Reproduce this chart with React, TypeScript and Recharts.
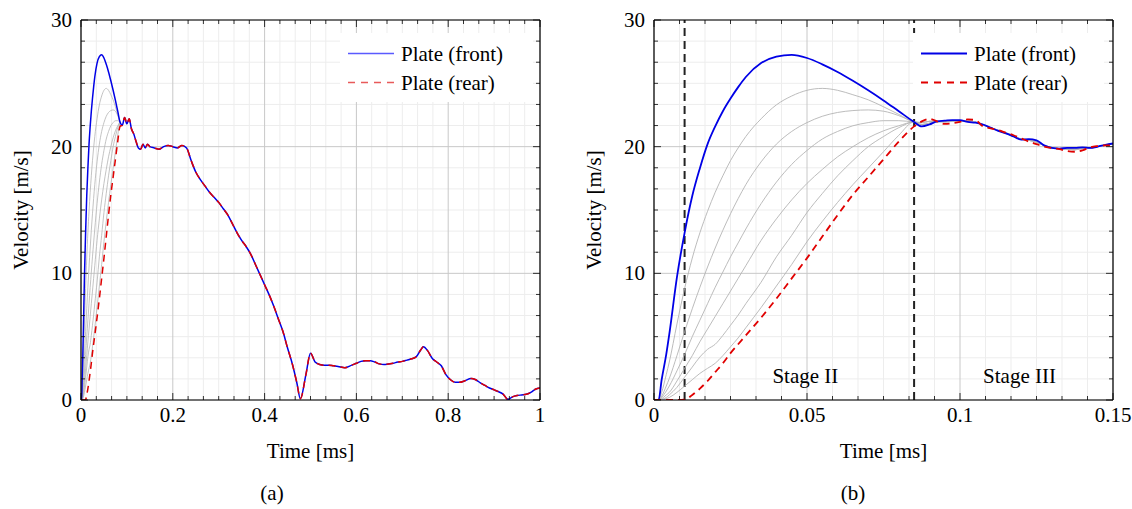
import React from 'react';
import { LineChart, Line, XAxis, YAxis, CartesianGrid, ReferenceLine, ReferenceArea } from 'recharts';

// rise phase, shared by both panels (ms, m/s)
const earlyTime = [0, 0.0015, 0.0025, 0.004, 0.005, 0.0075, 0.01, 0.0125, 0.015, 0.0175, 0.02, 0.0225, 0.025, 0.0275, 0.03, 0.035, 0.04, 0.045, 0.05, 0.055, 0.06, 0.065, 0.07, 0.075, 0.08, 0.085];
const earlyFront = [0, 0, 1.6, 3.6, 5.2, 9.7, 13.2, 16.1, 18.3, 20.2, 21.6, 22.8, 23.8, 24.7, 25.5, 26.6, 27.1, 27.25, 27.0, 26.5, 25.9, 25.2, 24.45, 23.65, 22.8, 21.95];
const earlyRear = [0, 0, 0, 0, 0, 0, 0.02, 0.4, 0.9, 1.5, 2.2, 2.9, 3.7, 4.4, 5.1, 6.5, 8.0, 9.6, 11.2, 12.9, 14.6, 16.2, 17.6, 19.0, 20.4, 21.6];
const earlyG1 = [0, 0, 0.6, 2.0, 3.0, 6.0, 8.8, 11.2, 13.2, 14.9, 16.4, 17.7, 18.9, 19.9, 20.8, 22.2, 23.3, 24.0, 24.45, 24.6, 24.45, 24.1, 23.7, 23.15, 22.55, 21.95];
const earlyG2 = [0, 0, 0.3, 1.1, 1.7, 3.5, 5.4, 7.2, 8.9, 10.5, 12.0, 13.4, 14.7, 15.9, 17.0, 18.8, 20.2, 21.2, 21.9, 22.4, 22.7, 22.85, 22.9, 22.8, 22.45, 21.95];
const earlyG3 = [0, 0, 0.2, 0.7, 1.1, 2.3, 3.6, 5.0, 6.3, 7.6, 8.9, 10.1, 11.3, 12.4, 13.5, 15.5, 17.2, 18.6, 19.7, 20.6, 21.2, 21.65, 21.9, 22.05, 22.05, 21.95];
const earlyG4 = [0, 0, 0.1, 0.4, 0.6, 1.5, 2.5, 3.5, 4.6, 5.6, 6.6, 7.6, 8.6, 9.6, 10.6, 12.6, 14.3, 15.8, 17.1, 18.2, 19.2, 20.0, 20.7, 21.25, 21.65, 21.95];
const earlyG5 = [0, 0, 0.05, 0.2, 0.4, 1.0, 1.8, 2.6, 3.4, 4.0, 4.4, 5.1, 5.9, 6.7, 7.6, 9.3, 11.3, 13.0, 14.8, 16.3, 17.7, 18.9, 20.0, 20.8, 21.5, 21.95];
const earlyG6 = [0, 0, 0, 0.1, 0.2, 0.6, 1.1, 1.6, 2.1, 2.5, 2.9, 3.5, 4.2, 4.9, 5.7, 7.3, 9.0, 10.7, 12.5, 14.1, 15.6, 17.0, 18.3, 19.6, 20.9, 21.95];

// panel (b) tail up to 0.15 ms
const tailTime = [0.0875, 0.09, 0.0925, 0.095, 0.0975, 0.1, 0.1025, 0.105, 0.1075, 0.11, 0.1125, 0.115, 0.1175, 0.12, 0.1225, 0.125, 0.1275, 0.13, 0.1325, 0.135, 0.1375, 0.14, 0.1425, 0.145, 0.1475, 0.15];
const tailFront = [21.6, 21.75, 22.0, 22.05, 22.1, 22.1, 21.95, 21.9, 21.75, 21.5, 21.25, 21.05, 20.8, 20.55, 20.6, 20.5, 20.1, 19.9, 19.85, 19.9, 19.9, 19.95, 19.9, 20.0, 20.15, 20.25];
const tailRear = [22.0, 22.2, 22.0, 21.8, 21.85, 21.95, 22.15, 22.1, 21.6, 21.45, 21.3, 21.1, 20.9, 20.65, 20.4, 20.2, 20.0, 19.9, 19.8, 19.65, 19.6, 19.7, 19.95, 20.05, 20.1, 20.1];
const tailGrayA = [21.9, 22.0, 22.0, 21.95, 22.0, 22.05, 22.0, 21.95, 21.7, 21.5, 21.3, 21.1, 20.85, 20.6, 20.5, 20.35, 20.1, 19.95, 19.85, 19.85, 19.8, 19.85, 19.9, 20.0, 20.1, 20.2];
const tailGrayB = [21.75, 21.85, 21.95, 22.0, 22.05, 22.0, 22.05, 21.95, 21.75, 21.5, 21.25, 21.05, 20.8, 20.6, 20.55, 20.4, 20.05, 19.9, 19.85, 19.8, 19.75, 19.9, 19.9, 20.0, 20.15, 20.2];

// panel (a) remainder up to 1 ms (front and rear coincide)
const lateTime = [0.09, 0.095, 0.1, 0.105, 0.11, 0.115, 0.12, 0.125, 0.13, 0.135, 0.14, 0.145, 0.15, 0.16, 0.17, 0.18, 0.19, 0.2, 0.21, 0.22, 0.23, 0.24, 0.25, 0.26, 0.27, 0.28, 0.29, 0.3, 0.31, 0.32, 0.33, 0.34, 0.35, 0.36, 0.37, 0.38, 0.39, 0.4, 0.41, 0.42, 0.43, 0.44, 0.45, 0.46, 0.47, 0.478, 0.49, 0.5, 0.51, 0.52, 0.53, 0.54, 0.55, 0.56, 0.575, 0.59, 0.6, 0.61, 0.62, 0.63, 0.64, 0.65, 0.66, 0.67, 0.68, 0.69, 0.7, 0.71, 0.72, 0.73, 0.74, 0.746, 0.755, 0.765, 0.775, 0.785, 0.795, 0.805, 0.815, 0.825, 0.835, 0.85, 0.86, 0.87, 0.88, 0.89, 0.9, 0.91, 0.92, 0.93, 0.94, 0.95, 0.96, 0.97, 0.98, 0.99, 1.0];
const lateVelocity = [21.7, 22.3, 21.8, 22.2, 21.4, 21.0, 20.4, 19.9, 19.8, 20.2, 19.9, 20.2, 20.0, 19.9, 19.8, 20.0, 20.1, 20.0, 19.9, 20.1, 19.9, 18.9, 18.0, 17.4, 16.9, 16.4, 16.0, 15.6, 15.1, 14.6, 13.9, 13.2, 12.6, 12.1, 11.5, 10.7, 9.9, 9.1, 8.3, 7.4, 6.4, 5.4, 4.1, 2.9, 1.4, 0.1, 2.0, 3.7, 3.0, 2.8, 2.75, 2.75, 2.7, 2.65, 2.55, 2.75, 2.9, 3.05, 3.1, 3.1, 3.0, 2.85, 2.8, 2.85, 2.9, 3.0, 3.05, 3.15, 3.25, 3.4, 3.95, 4.2, 3.9, 3.3, 3.0, 2.7, 2.0, 1.6, 1.4, 1.4, 1.5, 1.7, 1.6, 1.35, 1.15, 0.95, 0.8, 0.65, 0.45, 0.05, 0.25, 0.35, 0.4, 0.45, 0.6, 0.85, 0.95];

const seriesNames = ['Plate (front)', 'Plate (rear)'];
const xTicksA = [0, 0.2, 0.4, 0.6, 0.8, 1];
const xTicksB = [0, 0.05, 0.1, 0.15];
const yTicks = [0, 10, 20, 30];
const stageLines = [0.01, 0.085];
const stageLabels = ['Stage II', 'Stage III'];
const captions = ['(a)', '(b)'];

const FONT = "'Liberation Serif', 'Times New Roman', serif";
const FS = 21;
const BLUE = '#0000e6';
const RED = '#e00000';
const grayKeys = ['g1', 'g2', 'g3', 'g4', 'g5', 'g6'];

// 5 minor ticks between majors, like pgfplots
const minorsOf = (majors: number[]) => {
  const out: number[] = [];
  for (let i = 0; i < majors.length - 1; i++) {
    for (let k = 1; k <= 5; k++) out.push(majors[i] + ((majors[i + 1] - majors[i]) * k) / 6);
  }
  return out;
};
const allOf = (majors: number[]) => [...majors, ...minorsOf(majors)].sort((a, b) => a - b);

const earlyRows = earlyTime.map((t, i) => ({
  t,
  front: earlyFront[i],
  rear: earlyRear[i],
  g1: earlyG1[i],
  g2: earlyG2[i],
  g3: earlyG3[i],
  g4: earlyG4[i],
  g5: earlyG5[i],
  g6: earlyG6[i],
}));

const rowsA = [
  ...earlyRows,
  ...lateTime.map((t, i) => ({ t, front: lateVelocity[i], rear: lateVelocity[i] })),
];

const rowsB = [
  ...earlyRows,
  ...tailTime.map((t, i) => ({
    t,
    front: tailFront[i],
    rear: tailRear[i],
    g1: tailGrayA[i],
    g2: tailGrayB[i],
    g3: tailGrayA[i],
    g4: tailGrayB[i],
    g5: tailGrayA[i],
    g6: tailGrayB[i],
  })),
];

const makeTick = (side: string, majors: number[]) => (props: any) => {
  const { x, y, payload } = props;
  const v = payload.value;
  const major = majors.includes(v);
  const len = major ? 7 : 4;
  let line;
  if (side === 'bottom') line = <line x1={x} x2={x} y1={y} y2={y - len} />;
  else if (side === 'top') line = <line x1={x} x2={x} y1={y} y2={y + len} />;
  else if (side === 'left') line = <line x1={x} x2={x + len} y1={y} y2={y} />;
  else line = <line x1={x} x2={x - len} y1={y} y2={y} />;
  let label = null;
  if (major && side === 'bottom')
    label = (
      <text x={x} y={y + 22} textAnchor="middle" fontFamily={FONT} fontSize={FS} fill="#000">
        {String(v)}
      </text>
    );
  if (major && side === 'left')
    label = (
      <text x={x - 9} y={y + 7} textAnchor="end" fontFamily={FONT} fontSize={FS} fill="#000">
        {String(v)}
      </text>
    );
  return (
    <g>
      <g stroke="#000" strokeWidth={0.8}>{line}</g>
      {label}
    </g>
  );
};

interface PanelProps {
  left: number;
  rows: any[];
  xMajors: number[];
  grayWidth: number;
  mainWidth: number;
  stages?: boolean;
}

const Panel: React.FC<PanelProps> = ({ left, rows, xMajors, grayWidth, mainWidth, stages }) => {
  const xDomain = [xMajors[0], xMajors[xMajors.length - 1]];
  const xAll = allOf(xMajors);
  const yAll = allOf(yTicks);
  return (
    <div style={{ position: 'absolute', left, top: 0 }}>
      <LineChart width={560} height={470} data={rows} margin={{ top: 19, right: 19, bottom: 10, left: 0 }}>
        <CartesianGrid
          xAxisId="b"
          yAxisId="l"
          verticalValues={minorsOf(xMajors)}
          horizontalValues={minorsOf(yTicks)}
          stroke="#ededed"
          strokeWidth={1}
        />
        <CartesianGrid
          xAxisId="b"
          yAxisId="l"
          verticalValues={xMajors}
          horizontalValues={yTicks}
          stroke="#c8c8c8"
          strokeWidth={1}
        />
        <XAxis
          xAxisId="b"
          dataKey="t"
          type="number"
          domain={xDomain}
          allowDataOverflow
          ticks={xAll}
          interval={0}
          tickSize={0}
          tickMargin={0}
          tickLine={false}
          tick={makeTick('bottom', xMajors)}
          axisLine={{ stroke: '#000', strokeWidth: 1.2 }}
          height={60}
          label={{
            content: ({ viewBox }: any) => (
              <text
                x={viewBox.x + viewBox.width / 2}
                y={viewBox.y + 58}
                textAnchor="middle"
                fontFamily={FONT}
                fontSize={FS}
                fill="#000"
              >
                Time [ms]
              </text>
            ),
          }}
        />
        <XAxis
          xAxisId="top"
          orientation="top"
          dataKey="t"
          type="number"
          domain={xDomain}
          allowDataOverflow
          ticks={xAll}
          interval={0}
          tickSize={0}
          tickMargin={0}
          tickLine={false}
          tick={makeTick('top', xMajors)}
          axisLine={{ stroke: '#000', strokeWidth: 1.2 }}
          height={1}
        />
        <YAxis
          yAxisId="l"
          type="number"
          domain={[0, 30]}
          allowDataOverflow
          ticks={yAll}
          interval={0}
          tickSize={0}
          tickMargin={0}
          tickLine={false}
          tick={makeTick('left', yTicks)}
          axisLine={{ stroke: '#000', strokeWidth: 1.2 }}
          width={81}
          label={{
            content: ({ viewBox }: any) => (
              <text
                transform={`translate(${viewBox.x + 28},${viewBox.y + viewBox.height / 2}) rotate(-90)`}
                textAnchor="middle"
                fontFamily={FONT}
                fontSize={FS}
                fill="#000"
              >
                Velocity [m/s]
              </text>
            ),
          }}
        />
        <YAxis
          yAxisId="r"
          orientation="right"
          type="number"
          domain={[0, 30]}
          allowDataOverflow
          ticks={yAll}
          interval={0}
          tickSize={0}
          tickMargin={0}
          tickLine={false}
          tick={makeTick('right', yTicks)}
          axisLine={{ stroke: '#000', strokeWidth: 1.2 }}
          width={1}
        />
        {stages &&
          stageLines.map((x) => (
            <ReferenceLine
              key={x}
              x={x}
              xAxisId="b"
              yAxisId="l"
              stroke="#222"
              strokeWidth={2}
              strokeDasharray="8 5"
            />
          ))}
        {stages &&
          [
            [stageLines[0], stageLines[1]],
            [stageLines[1], xDomain[1]],
          ].map(([x1, x2], i) => (
            <ReferenceArea
              key={stageLabels[i]}
              x1={x1}
              x2={x2}
              xAxisId="b"
              yAxisId="l"
              fill="none"
              stroke="none"
              label={{
                content: ({ viewBox }: any) => (
                  <text
                    x={viewBox.x + viewBox.width / 2 + 6}
                    y={viewBox.y + viewBox.height - 17}
                    textAnchor="middle"
                    fontFamily={FONT}
                    fontSize={FS}
                    fill="#000"
                  >
                    {stageLabels[i]}
                  </text>
                ),
              }}
            />
          ))}
        {grayKeys.map((k) => (
          <Line
            key={k}
            dataKey={k}
            xAxisId="b"
            yAxisId="l"
            type="monotone"
            stroke="#b4b4b4"
            strokeWidth={grayWidth}
            dot={false}
            activeDot={false}
            isAnimationActive={false}
          />
        ))}
        <Line
          dataKey="front"
          name={seriesNames[0]}
          xAxisId="b"
          yAxisId="l"
          type="monotone"
          stroke={BLUE}
          strokeWidth={mainWidth}
          dot={false}
          activeDot={false}
          isAnimationActive={false}
        />
        <Line
          dataKey="rear"
          name={seriesNames[1]}
          xAxisId="b"
          yAxisId="l"
          type="monotone"
          stroke={RED}
          strokeWidth={mainWidth}
          strokeDasharray="7 5"
          dot={false}
          activeDot={false}
          isAnimationActive={false}
        />
      </LineChart>
    </div>
  );
};

const LegendBox: React.FC<{ left: number; width: number; lineW: number; blue: string; red: string }> = ({
  left,
  width,
  lineW,
  blue,
  red,
}) => (
  <svg style={{ position: 'absolute', left, top: 33 }} width={width} height={69}>
    <rect width={width} height={69} fill="#fff" />
    <line x1={8} x2={54} y1={20.5} y2={20.5} stroke={blue} strokeWidth={lineW} />
    <line x1={8} x2={54} y1={49.5} y2={49.5} stroke={red} strokeWidth={lineW} strokeDasharray="7 6" />
    <text x={61} y={27.5} fontFamily={FONT} fontSize={FS} fill="#000">
      {seriesNames[0]}
    </text>
    <text x={61} y={57} fontFamily={FONT} fontSize={FS} fill="#000">
      {seriesNames[1]}
    </text>
  </svg>
);

export default function App() {
  return (
    <div style={{ position: 'absolute', left: 0, top: 0, width: 1132, height: 509, background: '#fff', overflow: 'hidden' }}>
      <Panel left={0} rows={rowsA} xMajors={xTicksA} grayWidth={0.8} mainWidth={1.5} />
      <Panel left={573} rows={rowsB} xMajors={xTicksB} grayWidth={0.9} mainWidth={1.8} stages />
      <LegendBox left={340} width={193} lineW={1.3} blue="#5a5aff" red="#e85a5a" />
      <LegendBox left={913} width={191} lineW={1.8} blue={BLUE} red={RED} />
      <svg style={{ position: 'absolute', left: 0, top: 470 }} width={1132} height={39}>
        <text x={272} y={30} textAnchor="middle" fontFamily={FONT} fontSize={FS} fill="#000">
          {captions[0]}
        </text>
        <text x={853} y={30} textAnchor="middle" fontFamily={FONT} fontSize={FS} fill="#000">
          {captions[1]}
        </text>
      </svg>
    </div>
  );
}
